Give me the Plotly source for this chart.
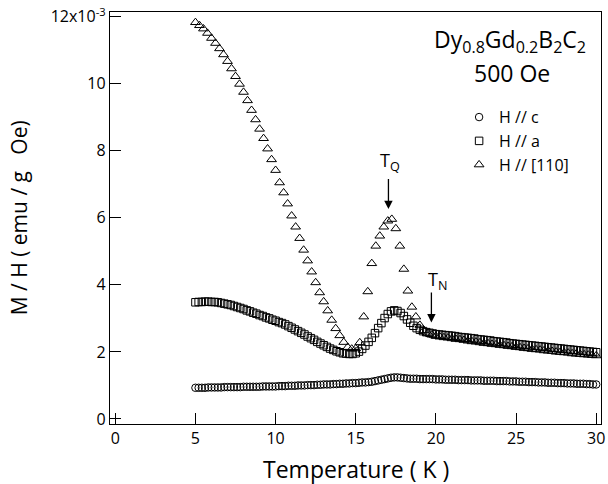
import plotly.graph_objects as go

# Temperature grid for H//c and H//a (K)
temp_ca = [5.0, 5.2, 5.4, 5.6, 5.8, 6.0, 6.2, 6.4, 6.6, 6.8,
           7.0, 7.2, 7.4, 7.6, 7.8, 8.0, 8.2, 8.4, 8.6, 8.8,
           9.0, 9.2, 9.4, 9.6, 9.8, 10.0, 10.2, 10.4, 10.6, 10.8,
           11.0, 11.2, 11.4, 11.6, 11.8, 12.0, 12.2, 12.4, 12.6, 12.8,
           13.0, 13.2, 13.4, 13.6, 13.8, 14.0, 14.2, 14.4, 14.6, 14.8,
           15.0, 15.2, 15.4, 15.6, 15.8, 16.0, 16.2, 16.4, 16.6, 16.8,
           17.0, 17.2, 17.4, 17.6, 17.8, 18.0, 18.2, 18.4, 18.6, 18.8,
           19.0, 19.2, 19.4, 19.6, 19.8, 20.0, 20.2, 20.4, 20.6, 20.8,
           21.0, 21.2, 21.4, 21.6, 21.8, 22.0, 22.2, 22.4, 22.6, 22.8,
           23.0, 23.2, 23.4, 23.6, 23.8, 24.0, 24.2, 24.4, 24.6, 24.8,
           25.0, 25.2, 25.4, 25.6, 25.8, 26.0, 26.2, 26.4, 26.6, 26.8,
           27.0, 27.2, 27.4, 27.6, 27.8, 28.0, 28.2, 28.4, 28.6, 28.8,
           29.0, 29.2, 29.4, 29.6, 29.8, 30.0]

# M/H (10^-3 emu/g Oe), H // c
mh_c = [0.93, 0.93, 0.93, 0.93, 0.94, 0.94, 0.94, 0.94, 0.94, 0.95,
        0.95, 0.95, 0.95, 0.95, 0.95, 0.96, 0.96, 0.96, 0.96, 0.96,
        0.96, 0.97, 0.97, 0.97, 0.97, 0.97, 0.98, 0.98, 0.98, 0.99,
        0.99, 0.99, 1.00, 1.00, 1.00, 1.01, 1.01, 1.01, 1.02, 1.02,
        1.03, 1.03, 1.03, 1.04, 1.04, 1.05, 1.05, 1.06, 1.06, 1.07,
        1.07, 1.08, 1.09, 1.09, 1.10, 1.11, 1.13, 1.15, 1.17, 1.19,
        1.21, 1.23, 1.24, 1.24, 1.23, 1.22, 1.21, 1.20, 1.20, 1.20,
        1.19, 1.19, 1.19, 1.19, 1.19, 1.18, 1.18, 1.18, 1.17, 1.17,
        1.17, 1.17, 1.16, 1.16, 1.16, 1.16, 1.15, 1.15, 1.15, 1.15,
        1.14, 1.14, 1.14, 1.14, 1.13, 1.13, 1.13, 1.13, 1.12, 1.12,
        1.12, 1.11, 1.11, 1.11, 1.10, 1.10, 1.10, 1.09, 1.09, 1.09,
        1.08, 1.08, 1.08, 1.07, 1.07, 1.07, 1.06, 1.06, 1.06, 1.05,
        1.05, 1.05, 1.04, 1.04, 1.03, 1.03]

# M/H (10^-3 emu/g Oe), H // a
mh_a = [3.48, 3.49, 3.49, 3.50, 3.50, 3.49, 3.49, 3.48, 3.46, 3.44,
        3.42, 3.40, 3.37, 3.34, 3.31, 3.28, 3.24, 3.21, 3.17, 3.14,
        3.10, 3.07, 3.03, 3.00, 2.96, 2.93, 2.89, 2.86, 2.82, 2.77,
        2.72, 2.67, 2.62, 2.57, 2.52, 2.46, 2.41, 2.36, 2.30, 2.25,
        2.20, 2.15, 2.10, 2.06, 2.02, 1.99, 1.96, 1.95, 1.94, 1.94,
        1.96, 2.01, 2.09, 2.19, 2.30, 2.42, 2.56, 2.71, 2.86, 3.01,
        3.13, 3.21, 3.24, 3.22, 3.16, 3.07, 2.97, 2.87, 2.78, 2.71,
        2.66, 2.62, 2.59, 2.57, 2.55, 2.53, 2.52, 2.51, 2.50, 2.49,
        2.48, 2.47, 2.45, 2.44, 2.43, 2.42, 2.41, 2.40, 2.38, 2.37,
        2.36, 2.35, 2.34, 2.32, 2.31, 2.30, 2.29, 2.28, 2.26, 2.25,
        2.24, 2.23, 2.22, 2.21, 2.20, 2.19, 2.18, 2.17, 2.16, 2.15,
        2.14, 2.13, 2.12, 2.11, 2.10, 2.09, 2.08, 2.07, 2.06, 2.05,
        2.04, 2.03, 2.02, 2.01, 2.00, 1.99]

# Temperature grid for H // [110] (K)
temp_110 = [5.0, 5.25, 5.5, 5.75, 6.0, 6.25, 6.5, 6.75,
            7.0, 7.25, 7.5, 7.75, 8.0, 8.25, 8.5, 8.75,
            9.0, 9.25, 9.5, 9.75, 10.0, 10.25, 10.5, 10.75,
            11.0, 11.25, 11.5, 11.75, 12.0, 12.25, 12.5, 12.75,
            13.0, 13.25, 13.5, 13.75, 14.0, 14.25, 14.5, 14.75,
            15.0, 15.25, 15.5, 15.75, 16.0, 16.25, 16.5, 16.75,
            17.0, 17.25, 17.5, 17.75, 18.0, 18.25, 18.5, 18.75,
            19.0, 19.25, 19.5, 19.75, 20.0, 20.25, 20.5, 20.75,
            21.0, 21.25, 21.5, 21.75, 22.0, 22.25, 22.5, 22.75,
            23.0, 23.25, 23.5, 23.75, 24.0, 24.25, 24.5, 24.75,
            25.0, 25.25, 25.5, 25.75, 26.0, 26.25, 26.5, 26.75,
            27.0, 27.25, 27.5, 27.75, 28.0, 28.25, 28.5, 28.75,
            29.0, 29.25, 29.5, 29.75, 30.0]

# M/H (10^-3 emu/g Oe), H // [110]
mh_110 = [11.83, 11.74, 11.64, 11.51, 11.36, 11.21, 11.05, 10.87,
          10.67, 10.45, 10.22, 9.99, 9.75, 9.50, 9.21, 8.93,
          8.65, 8.37, 8.06, 7.74, 7.42, 7.05, 6.75, 6.42,
          6.06, 5.73, 5.39, 5.04, 4.72, 4.39, 4.07, 3.77,
          3.50, 3.23, 2.95, 2.70, 2.49, 2.29, 2.14, 2.09,
          2.10, 2.28, 3.05, 3.80, 4.64, 5.16, 5.46, 5.73,
          5.91, 5.96, 5.68, 5.16, 4.47, 3.82, 3.34, 3.05,
          2.80, 2.64, 2.56, 2.51, 2.47, 2.45, 2.43, 2.42,
          2.40, 2.38, 2.37, 2.35, 2.33, 2.31, 2.30, 2.28,
          2.26, 2.25, 2.23, 2.22, 2.20, 2.19, 2.17, 2.16,
          2.14, 2.13, 2.11, 2.10, 2.08, 2.07, 2.06, 2.04,
          2.03, 2.02, 2.00, 1.99, 1.98, 1.97, 1.95, 1.94,
          1.93, 1.92, 1.91, 1.90, 1.89]

x_ticks = [0, 5, 10, 15, 20, 25, 30]
x_ticklabels = ["0", "5", "10", "15", "20", "25", "30"]
y_ticks = [0, 2, 4, 6, 8, 10, 12]
y_ticklabels = ["0", "2", "4", "6", "8", "10", "12x10<sup>-3</sup>"]

series_names = ["H // c", "H // a", "H // [110]"]

FONT = "Open Sans"

fig = go.Figure()
fig.add_trace(go.Scatter(x=temp_ca, y=mh_c, mode="markers", name=series_names[0],
                         marker=dict(symbol="circle-open", size=7.5, color="black",
                                     line=dict(width=1, color="black"))))
fig.add_trace(go.Scatter(x=temp_ca, y=mh_a, mode="markers", name=series_names[1],
                         marker=dict(symbol="square-open", size=7.5, color="black",
                                     line=dict(width=1, color="black"))))
fig.add_trace(go.Scatter(x=temp_110, y=mh_110, mode="markers", name=series_names[2],
                         marker=dict(symbol="triangle-up-open", size=8.5, color="black",
                                     line=dict(width=1, color="black"))))

axis_common = dict(showgrid=False, zeroline=False, showline=True, linecolor="black",
                   linewidth=1.3, mirror=True, ticks="inside", ticklen=11,
                   tickwidth=1.2, tickcolor="black", ticklabeloverflow="allow",
                   tickfont=dict(family=FONT, size=16, color="black"))

fig.update_xaxes(range=[-0.33, 30.3], tickvals=x_ticks, ticktext=x_ticklabels,
                 **axis_common)
fig.update_yaxes(range=[-0.15, 12.14], tickvals=y_ticks, ticktext=y_ticklabels,
                 **axis_common)

annotations = [
    dict(text="Temperature ( K )", xref="paper", yref="paper", x=0.501, y=-0.109,
         xanchor="center", yanchor="middle", showarrow=False,
         font=dict(family=FONT, size=23, color="black")),
    dict(text="M / H ( emu / g\u00a0\u00a0\u00a0Oe)", xref="paper", yref="paper", x=-0.186,
         y=0.501, xanchor="center", yanchor="middle", showarrow=False, textangle=-90,
         font=dict(family=FONT, size=21, color="black")),
    dict(text="Dy<sub>0.8</sub>Gd<sub>0.2</sub>B<sub>2</sub>C<sub>2</sub>", xref="paper",
         yref="paper", x=0.814, y=0.932, xanchor="center", yanchor="middle",
         showarrow=False, font=dict(family=FONT, size=23, color="black")),
    dict(text="500 Oe", xref="paper", yref="paper", x=0.819, y=0.851,
         xanchor="center", yanchor="middle", showarrow=False,
         font=dict(family=FONT, size=23, color="black")),
    # arrows
    dict(x=17.04, y=6.26, ax=17.04, ay=7.2, xref="x", yref="y", axref="x", ayref="y",
         text="", showarrow=True, arrowhead=2, arrowsize=1.3, arrowwidth=1.3,
         arrowcolor="black"),
    dict(x=19.72, y=2.88, ax=19.72, ay=3.82, xref="x", yref="y", axref="x", ayref="y",
         text="", showarrow=True, arrowhead=2, arrowsize=1.3, arrowwidth=1.3,
         arrowcolor="black"),
    dict(text="T<sub>Q</sub>", x=17.12, y=7.68, xref="x", yref="y", showarrow=False,
         xanchor="center", yanchor="middle", font=dict(family=FONT, size=18, color="black")),
    dict(text="T<sub>N</sub>", x=20.09, y=4.14, xref="x", yref="y", showarrow=False,
         xanchor="center", yanchor="middle", font=dict(family=FONT, size=18, color="black")),
]

fig.update_layout(
    width=608, height=484,
    margin=dict(l=110, r=3, t=12, b=60),
    paper_bgcolor="white", plot_bgcolor="white",
    font=dict(family=FONT, color="black"),
    showlegend=True,
    legend=dict(x=0.711, y=0.786, xanchor="left", yanchor="top",
                bgcolor="rgba(0,0,0,0)", borderwidth=0,
                font=dict(family=FONT, size=16, color="black"),
                tracegroupgap=0, itemwidth=30),
    annotations=annotations,
)

fig.write_html("out.html", config={"displayModeBar": False},
               post_script="document.body.style.margin='0';document.body.style.overflow='hidden';")
